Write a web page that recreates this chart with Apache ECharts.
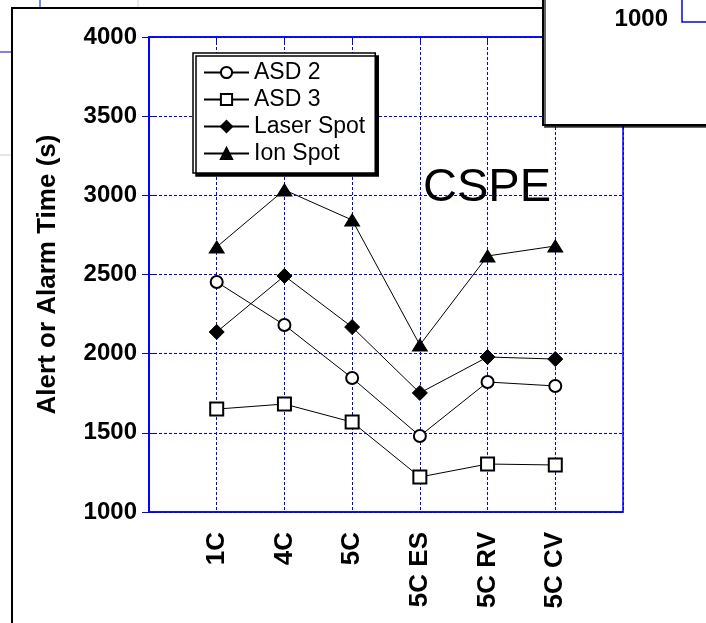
<!DOCTYPE html>
<html>
<head>
<meta charset="utf-8">
<script src="https://cdn.jsdelivr.net/npm/echarts@6/dist/echarts.min.js"></script>
<style>
  html, body { margin: 0; padding: 0; background: #fff; }
  #chart { width: 706px; height: 623px; }
</style>
</head>
<body>
<div id="chart"></div>
<script>
// alert / alarm times per test, CSPE
var categories = ['1C', '4C', '5C', '5C ES', '5C RV', '5C CV'];
var asd2 = [2453, 2181, 1846, 1480, 1821, 1796];
var asd3 = [1650, 1682, 1568, 1221, 1303, 1297];
var laserSpot = [2137, 2491, 2168, 1752, 1979, 1966];
var ionSpot = [2674, 3034, 2844, 2055, 2617, 2680];
var yTicks = [1000, 1500, 2000, 2500, 3000, 3500, 4000];

var blue = '#0000ff';
var gridDash = [3, 2];

// category i sits at x = i + 1 on a 0..7 value axis
function pairs(arr) {
    return arr.map(function (v, i) { return [i + 1, v]; });
}

function mkSeries(name, symbol, size, values) {
    return {
        name: name,
        type: 'line',
        animation: false,
        symbol: symbol,
        symbolSize: size,
        showAllSymbol: true,
        lineStyle: { color: '#000', width: 1 },
        itemStyle: { color: '#000', borderColor: '#000', borderWidth: 1 },
        z: 5,
        data: pairs(values)
    };
}

var myChart = echarts.init(document.getElementById('chart'));

var option = {
    backgroundColor: '#fff',
    animation: false,
    grid: {
        left: 149,
        top: 37,
        right: 83,
        bottom: 111,
        show: true,
        borderColor: blue,
        borderWidth: 1.5
    },
    legend: {
        orient: 'vertical',
        left: 193,
        top: 53,
        padding: [8, 10, 8, 10],
        itemWidth: 45,
        itemHeight: 14,
        itemGap: 4,
        backgroundColor: '#fff',
        borderColor: '#000',
        borderWidth: 1.5,
        shadowColor: '#000',
        shadowBlur: 0,
        shadowOffsetX: 3,
        shadowOffsetY: 3,
        textStyle: {
            fontFamily: 'Liberation Sans, Arial, sans-serif',
            fontSize: 23,
            color: '#000'
        },
        data: ['ASD 2', 'ASD 3', 'Laser Spot', 'Ion Spot']
    },
    xAxis: [{
        type: 'value',
        min: 0,
        max: 7,
        interval: 1,
        axisLine: { show: true, lineStyle: { color: blue, width: 1.5 } },
        axisTick: { show: false },
        splitLine: { show: true, lineStyle: { color: blue, type: gridDash, width: 1 } },
        axisLabel: {
            rotate: 90,
            margin: 20,
            padding: [0, 0, 12, 0],
            fontFamily: 'Liberation Sans, Arial, sans-serif',
            fontWeight: 'bold',
            fontSize: 26,
            color: '#000',
            formatter: function (v) {
                return categories[v - 1] || '';
            }
        }
    }, {
        type: 'value',
        position: 'top',
        min: 0,
        max: 7,
        interval: 1,
        axisLine: { show: true, lineStyle: { color: blue, width: 1.5 } },
        axisTick: { show: true, inside: true, length: 7, lineStyle: { color: blue } },
        axisLabel: { show: false },
        splitLine: { show: false }
    }],
    yAxis: [{
        type: 'value',
        min: 1000,
        max: 4000,
        interval: 500,
        name: 'Alert or Alarm Time (s)',
        nameLocation: 'middle',
        nameGap: 88,
        nameTextStyle: {
            fontFamily: 'Liberation Sans, Arial, sans-serif',
            fontWeight: 'bold',
            fontSize: 26,
            color: '#000'
        },
        axisLine: { show: true, lineStyle: { color: blue, width: 1.5 } },
        axisTick: { show: true, inside: true, length: 8, lineStyle: { color: blue } },
        splitLine: { show: true, lineStyle: { color: blue, type: gridDash, width: 1 } },
        axisLabel: {
            margin: 12,
            fontFamily: 'Liberation Sans, Arial, sans-serif',
            fontWeight: 'bold',
            fontSize: 24,
            color: '#000',
            formatter: function (v) {
                return yTicks.indexOf(v) >= 0 ? String(v) : '';
            }
        }
    }, {
        type: 'value',
        position: 'right',
        min: 1000,
        max: 4000,
        interval: 500,
        axisLine: { show: true, lineStyle: { color: blue, width: 1.5 } },
        axisTick: { show: true, inside: true, length: 7, lineStyle: { color: blue } },
        axisLabel: { show: false },
        splitLine: { show: false }
    }],
    series: [
        mkSeries('ASD 2', 'emptyCircle', 12, asd2),
        mkSeries('ASD 3', 'emptyRect', 13, asd3),
        mkSeries('Laser Spot', 'diamond', 15, laserSpot),
        mkSeries('Ion Spot', 'triangle', [15, 12], ionSpot)
    ],
    graphic: [
        // outer page frame
        { type: 'line', shape: { x1: 12, y1: 7, x2: 12, y2: 623 }, style: { stroke: '#000', lineWidth: 2 }, z: 50 },
        { type: 'line', shape: { x1: 12, y1: 8, x2: 706, y2: 8 }, style: { stroke: '#000', lineWidth: 2 }, z: 50 },
        // stray fragments around the frame
        { type: 'line', shape: { x1: 40, y1: 0, x2: 40, y2: 7 }, style: { stroke: blue, lineWidth: 1 }, z: 50 },
        { type: 'line', shape: { x1: 138, y1: 0, x2: 138, y2: 7 }, style: { stroke: '#cccccc', lineWidth: 1 }, z: 50 },
        { type: 'line', shape: { x1: 0, y1: 52, x2: 11, y2: 52 }, style: { stroke: blue, lineWidth: 1 }, z: 50 },
        { type: 'line', shape: { x1: 0, y1: 155, x2: 11, y2: 155 }, style: { stroke: '#cccccc', lineWidth: 1 }, z: 50 },
        // CSPE label
        {
            type: 'text', left: 423, top: 165, z: 60,
            style: {
                text: 'CSPE',
                font: '47px "Liberation Sans", Arial, sans-serif',
                fill: '#000'
            }
        },
        // inset box at top right
        {
            type: 'rect', z: 100,
            shape: { x: 543, y: -10, width: 200, height: 135 },
            style: {
                fill: '#fff', stroke: '#000', lineWidth: 2,
                shadowColor: 'rgba(0,0,0,0.6)', shadowOffsetX: 2, shadowOffsetY: 2, shadowBlur: 0
            }
        },
        {
            type: 'text', z: 101, x: 668, y: 19,
            style: {
                text: '1000',
                font: 'bold 24px "Liberation Sans", Arial, sans-serif',
                fill: '#000',
                textAlign: 'right',
                textVerticalAlign: 'middle'
            }
        },
        {
            type: 'polyline', z: 101,
            shape: { points: [[682, 0], [682, 22], [706, 22]] },
            style: { stroke: blue, lineWidth: 1.5, fill: null }
        }
    ]
};

myChart.setOption(option);
</script>
</body>
</html>
